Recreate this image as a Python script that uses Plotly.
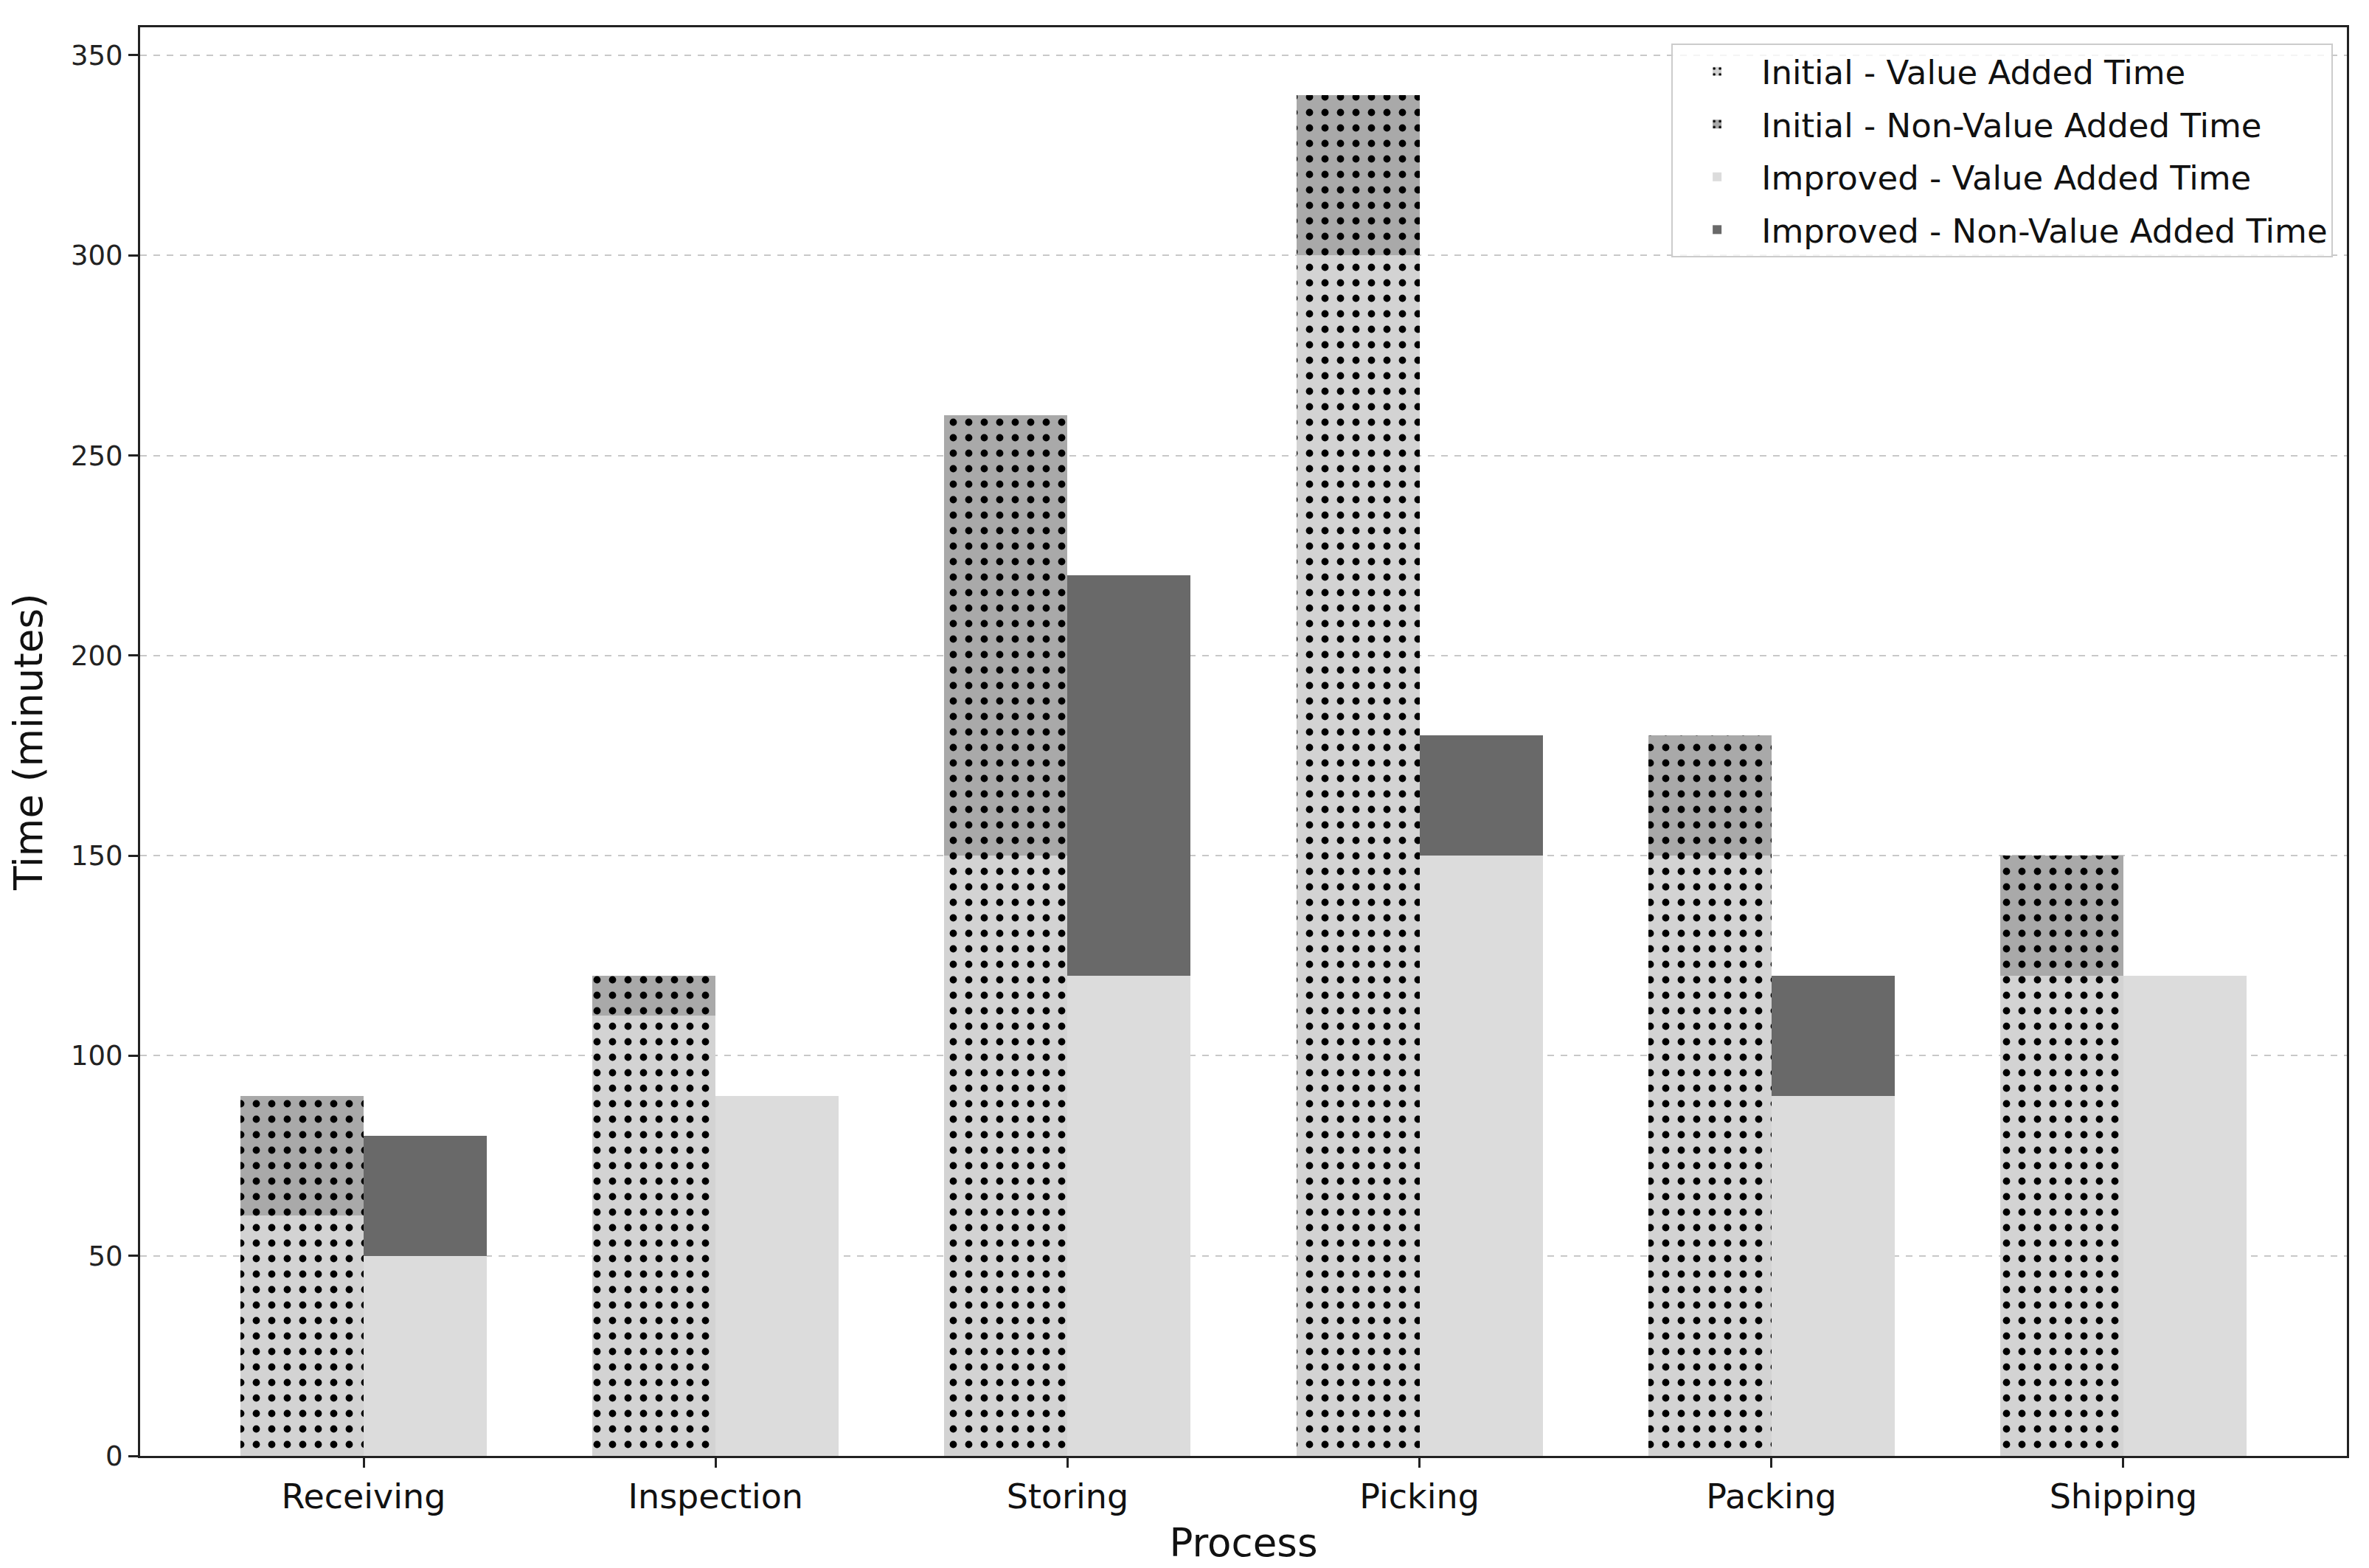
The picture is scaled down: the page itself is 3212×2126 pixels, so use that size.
import numpy as np
import plotly.graph_objects as go

categories = ["Receiving", "Inspection", "Storing", "Picking", "Packing", "Shipping"]
initial_va = [60, 110, 150, 300, 150, 120]
initial_nva = [30, 10, 110, 40, 30, 30]
improved_va = [50, 90, 120, 150, 90, 120]
improved_nva = [30, 0, 100, 30, 30, 0]
y_ticks = [0, 50, 100, 150, 200, 250, 300, 350]

bar_w = 0.35
idx = np.arange(len(categories))
x_init = idx - bar_w / 2
x_impr = idx + bar_w / 2

FONT = "DejaVu Sans"

def dotted(bg):
    return dict(color=bg, line=dict(width=0),
                pattern=dict(shape=".", fgcolor="black", bgcolor=bg,
                             size=21, solidity=0.17, fillmode="replace"))

fig = go.Figure()
fig.add_trace(go.Bar(x=x_init, y=initial_va, width=bar_w, name="Initial - Value Added Time",
                     legendgroup="a", marker=dotted("#d3d3d3")))
fig.add_trace(go.Bar(x=x_init, y=initial_nva, width=bar_w, name="Initial - Non-Value Added Time",
                     legendgroup="b", marker=dotted("#a9a9a9")))
fig.add_trace(go.Bar(x=x_impr, y=improved_va, width=bar_w, name="Improved - Value Added Time",
                     legendgroup="c", marker=dict(color="#dcdcdc", line=dict(width=0))))
fig.add_trace(go.Bar(x=x_impr, y=improved_nva, width=bar_w, name="Improved - Non-Value Added Time",
                     legendgroup="d", marker=dict(color="#696969", line=dict(width=0))))

fig.update_layout(
    barmode="stack",
    width=3212, height=2126,
    paper_bgcolor="white", plot_bgcolor="white",
    margin=dict(l=182, r=38, t=29, b=160, autoexpand=False),
    font=dict(family=FONT, color="black"),
    showlegend=True,
    legend=dict(x=0.9937, y=0.9886, xanchor="right", yanchor="top",
                bgcolor="rgba(255,255,255,0.8)", bordercolor="#cccccc", borderwidth=2,
                font=dict(family=FONT, size=45, color="#111111"),
                traceorder="grouped", tracegroupgap=10, itemwidth=110),
)
fig.update_xaxes(
    range=[-0.635, 5.635], tickmode="array", tickvals=idx, ticktext=categories,
    tickfont=dict(family=FONT, size=46, color="#111111"),
    ticks="outside", ticklen=13, tickwidth=3, tickcolor="#222222",
    showline=True, linecolor="#222222", linewidth=3, mirror=True,
    showgrid=False, zeroline=False,
    title=dict(text="Process", font=dict(family=FONT, size=53, color="#111111"), standoff=18),
)
fig.update_yaxes(
    range=[0, 357], tickmode="array", tickvals=y_ticks,
    tickfont=dict(family=FONT, size=37, color="#222222"),
    ticks="outside", ticklen=13, tickwidth=3, tickcolor="#222222",
    showline=True, linecolor="#222222", linewidth=3, mirror=True,
    showgrid=True, gridcolor="#c8c8c8", griddash="dash", gridwidth=2,
    zeroline=False,
    title=dict(text="Time (minutes)", font=dict(family=FONT, size=53, color="#111111"), standoff=22),
)

fig.write_html("out.html")
